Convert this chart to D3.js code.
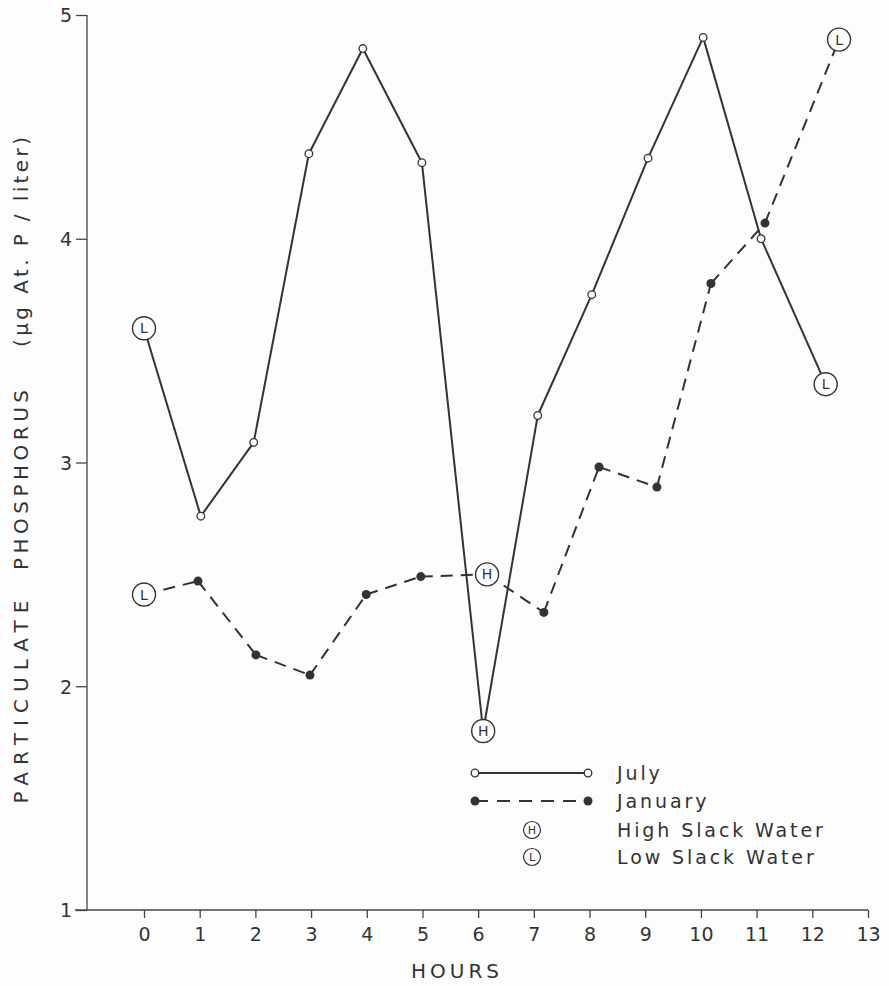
<!DOCTYPE html>
<html>
<head>
<meta charset="utf-8">
<script src="https://cdn.jsdelivr.net/npm/d3@7"></script>
<style>
  html, body { margin: 0; padding: 0; background: #fdfdfd; }
  svg { display: block; }
  text { font-family: "DejaVu Sans", "Liberation Sans", sans-serif; fill: #333; }
</style>
</head>
<body>
<svg id="chart" width="889" height="986"></svg>
<script>
// Particulate phosphorus over a tidal cycle, two sampling months
const julyHours  = [0, 1.02, 1.97, 2.96, 3.93, 4.99, 6.09, 7.07, 8.04, 9.05, 10.04, 11.08, 12.24];
const julyValues = [3.60, 2.76, 3.09, 4.38, 4.85, 4.34, 1.80, 3.21, 3.75, 4.36, 4.90, 4.00, 3.35];
const julyTide   = ["L", "", "", "", "", "", "H", "", "", "", "", "", "L"];

const janHours   = [0, 0.97, 2.01, 2.98, 3.99, 4.97, 6.16, 7.18, 8.17, 9.21, 10.18, 11.15, 12.48];
const janValues  = [2.41, 2.47, 2.14, 2.05, 2.41, 2.49, 2.50, 2.33, 2.98, 2.89, 3.80, 4.07, 4.89];
const janTide    = ["L", "", "", "", "", "", "H", "", "", "", "", "", "L"];

const xTicks = [0, 1, 2, 3, 4, 5, 6, 7, 8, 9, 10, 11, 12, 13];
const yTicks = [1, 2, 3, 4, 5];

const legendItems = ["July", "January", "High Slack Water", "Low Slack Water"];

const ink = "#333";
const paper = "#fdfdfd";
const svg = d3.select("#chart");

const x = d3.scaleLinear().domain([0, 13]).range([144, 868]);
const y = d3.scaleLinear().domain([1, 5]).range([910, 15]);

// ---- axes ----
const yAxis = d3.axisLeft(y).tickValues(yTicks).tickSize(11).tickPadding(4).tickFormat(d3.format("d"));
const gy = svg.append("g").attr("transform", `translate(${87},0)`).call(yAxis);
gy.select(".domain").attr("d", `M0,${y(5)}V${y(1)}`);

const xAxis = d3.axisBottom(x).tickValues(xTicks).tickSize(8).tickPadding(10);
const gx = svg.append("g").attr("transform", `translate(0,${y(1)})`).call(xAxis);
gx.select(".domain").attr("d", `M75,0H${x(13)}`);

[gx, gy].forEach(g => {
  g.selectAll("path, line").attr("stroke", "#444").attr("stroke-width", 1.3);
  g.selectAll("text").attr("fill", ink).style("font-size", "19px")
    .style("font-family", '"DejaVu Sans", sans-serif');
});
gy.selectAll(".tick text").attr("dy", "0.36em");

// ---- axis titles ----
svg.append("text")
  .attr("x", 457).attr("y", 978)
  .attr("text-anchor", "middle")
  .style("font-size", "20px").style("letter-spacing", "4px")
  .text("HOURS");

const yTitleParts = [
  { text: "PARTICULATE", center: 702, len: 203 },
  { text: "PHOSPHORUS", center: 480, len: 180 },
  { text: "(μg At. P / liter)", center: 242, len: 210 }
];
yTitleParts.forEach(p => {
  svg.append("text")
    .attr("transform", `translate(28,${p.center}) rotate(-90)`)
    .attr("text-anchor", "middle")
    .attr("textLength", p.len).attr("lengthAdjust", "spacing")
    .style("font-size", "20px")
    .text(p.text);
});

// ---- series ----
function pts(hours, values, tide) {
  return hours.map((h, i) => ({ h, v: values[i], tide: tide[i] }));
}
const july = pts(julyHours, julyValues, julyTide);
const jan = pts(janHours, janValues, janTide);

// each segment is stroked on its own so dashes restart at every sample
function drawSeries(data, dashed) {
  const g = svg.append("g");
  d3.pairs(data).forEach(([a, b]) => {
    g.append("line")
      .attr("x1", x(a.h)).attr("y1", y(a.v))
      .attr("x2", x(b.h)).attr("y2", y(b.v))
      .attr("stroke", ink).attr("stroke-width", 2)
      .attr("stroke-dasharray", dashed ? "12,8" : null);
  });
  return g;
}
drawSeries(july, false);
drawSeries(jan, true);

function drawMarkers(data, filled) {
  const g = svg.append("g");
  data.forEach(d => {
    if (d.tide) {
      g.append("circle").attr("cx", x(d.h)).attr("cy", y(d.v)).attr("r", 11.5)
        .attr("fill", paper).attr("stroke", ink).attr("stroke-width", 1.4);
      g.append("text").attr("x", x(d.h)).attr("y", y(d.v)).attr("dy", "0.36em")
        .attr("text-anchor", "middle").style("font-size", "14px").text(d.tide);
    } else if (filled) {
      g.append("circle").attr("cx", x(d.h)).attr("cy", y(d.v)).attr("r", 4.5)
        .attr("fill", ink);
    } else {
      g.append("circle").attr("cx", x(d.h)).attr("cy", y(d.v)).attr("r", 3.8)
        .attr("fill", paper).attr("stroke", ink).attr("stroke-width", 1.3);
    }
  });
}
drawMarkers(july, false);
drawMarkers(jan, true);

// ---- legend ----
const lg = svg.append("g");
const lx0 = 475, lx1 = 588, ltx = 617;
const rowY = [773, 801, 830, 857];

lg.append("line").attr("x1", lx0).attr("x2", lx1).attr("y1", rowY[0]).attr("y2", rowY[0])
  .attr("stroke", ink).attr("stroke-width", 2);
[lx0, lx1].forEach(cx => lg.append("circle").attr("cx", cx).attr("cy", rowY[0]).attr("r", 3.8)
  .attr("fill", paper).attr("stroke", ink).attr("stroke-width", 1.3));

lg.append("line").attr("x1", lx0).attr("x2", lx1).attr("y1", rowY[1]).attr("y2", rowY[1])
  .attr("stroke", ink).attr("stroke-width", 2).attr("stroke-dasharray", "13,9");
[lx0, lx1].forEach(cx => lg.append("circle").attr("cx", cx).attr("cy", rowY[1]).attr("r", 4.5)
  .attr("fill", ink));

["H", "L"].forEach((t, i) => {
  const cy = rowY[2 + i];
  lg.append("circle").attr("cx", 532).attr("cy", cy).attr("r", 8.5)
    .attr("fill", "none").attr("stroke", ink).attr("stroke-width", 1.2);
  lg.append("text").attr("x", 532).attr("y", cy).attr("dy", "0.36em")
    .attr("text-anchor", "middle").style("font-size", "11px").text(t);
});

legendItems.forEach((t, i) => {
  lg.append("text").attr("x", ltx).attr("y", rowY[i]).attr("dy", "0.36em")
    .style("font-size", "19px").style("letter-spacing", "2.9px").text(t);
});
</script>
</body>
</html>
